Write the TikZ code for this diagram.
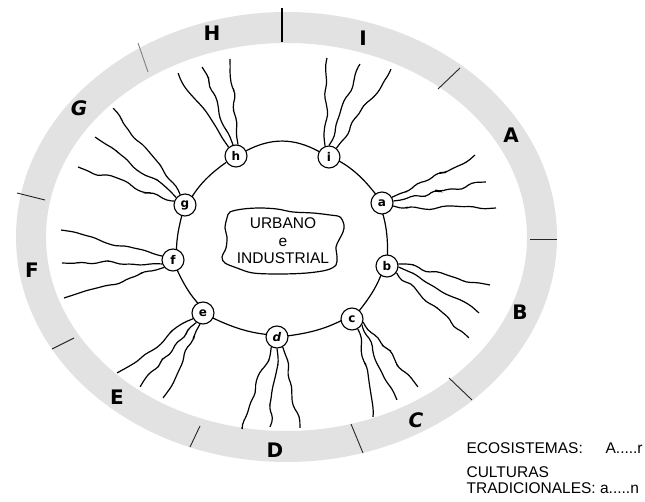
\documentclass[tikz,border=0pt]{standalone}
\usepackage{fontspec}
\setmainfont{Liberation Sans}
\newfontfamily\ringfont{DejaVu Sans}
\usetikzlibrary{decorations.pathmorphing,backgrounds}
\definecolor{ringgray}{RGB}{226,226,226}

\begin{document}
\begin{tikzpicture}[x=1pt,y=1pt,line width=1.2pt,
	cult/.style={circle,draw,line width=1.1pt,fill=white,inner sep=0pt,minimum size=22pt,font=\ringfont\bfseries\fontsize{12}{12}\selectfont},
	eco/.style={font=\ringfont\bfseries\fontsize{20}{20}\selectfont},
	wave/.style={decorate,decoration={random steps,segment length=10pt,amplitude=3pt},rounded corners=4.5pt},
	cut/.style={line width=0.9pt,black!85},
	legend/.style={anchor=base west,inner sep=0pt,font=\fontsize{15.5}{16}\selectfont}]
	
		\useasboundingbox (0,0) rectangle (645,-502);
		\pgfmathsetseed{11}
		
		% anillo de ecosistemas
		\fill[ringgray,even odd rule] (286.5,-237) ellipse[x radius=270.5,y radius=225]
			(286.5,-237) ellipse[x radius=240.5,y radius=194];
		\draw[line width=1.3pt] (282,-8) -- (282,-42);
		\draw[cut,gray] (138,-43) -- (148,-72);
		\draw[cut] (17,-193) -- (45,-200);
		\draw[cut] (438,-89) -- (460,-68);
		\draw[cut] (530,-239) -- (557,-239);
		\draw[cut] (52,-349) -- (74,-338);
		\draw[cut] (449,-378) -- (472,-400);
		\draw[cut] (200,-426) -- (190,-447);
		\draw[cut] (351,-424) -- (363,-453);
		
		\node[eco] (H) at (212,-33) {H};
		\node[eco] (I) at (363,-38) {I};
		\node[eco] (A) at (511,-135) {A};
		\node[eco] (B) at (520,-312) {B};
		\node[eco] (C) at (416,-420) {\itshape C};
		\node[eco] (D) at (275,-450) {D};
		\node[eco] (E) at (117,-397) {E};
		\node[eco] (F) at (32,-270) {F};
		\node[eco] (G) at (79,-108) {\itshape G};
		
		% culturas tradicionales
		\node[cult] (h) at (236,-156) {h};
		\node[cult] (i) at (329,-157) {i};
		\node[cult] (a) at (382,-203) {a};
		\node[cult] (b) at (387,-266) {b};
		\node[cult] (c) at (352,-319) {c};
		\node[cult] (d) at (277,-337) {\itshape d};
		\node[cult] (e) at (203,-313) {e};
		\node[cult] (f) at (173,-260) {f};
		\node[cult] (g) at (185,-205) {g};
		
		\begin{scope}[on background layer]
			\draw[line width=1.2pt] (h) to[bend left=28] (i) to[bend left=15] (a) to[bend left=12] (b)
				to[bend left=12] (c) to[bend left=12] (d) to[bend left=12] (e)
				to[bend left=12] (f) to[bend left=10] (g) to[bend left=15] (h);
		\end{scope}
		
		% centro urbano
		\node[align=center,inner sep=0pt,font=\fontsize{15.5}{17.5}\selectfont] (urb) at (283,-241) {URBANO\\e\\INDUSTRIAL};
		\draw plot[smooth cycle,tension=0.55] coordinates {(230,-212) (243,-209) (260,-208) (277,-209)
			(293,-212) (313,-213) (330,-215) (340,-217) (344,-225) (343,-232) (339,-240) (336,-247)
			(337,-257) (336,-265) (327,-270) (307,-273) (280,-274) (253,-273) (237,-268) (225,-263)
			(222,-257) (226,-248) (227,-237) (225,-228) (227,-218)};
		
		% raices
		\path (178,-73) coordinate (h1) (202,-67) coordinate (h2) (230,-59) coordinate (h3);
		\draw[wave] (h.130) -- (h1); \draw[wave] (h.105) -- (h2); \draw[wave] (h.80) -- (h3);
		\path (327,-58) coordinate (i1) (360,-64) coordinate (i2) (391,-69) coordinate (i3);
		\draw[wave] (i.110) -- (i1); \draw[wave] (i.90) -- (i2); \draw[wave] (i.50) -- (i3);
		\path (475,-155) coordinate (a1) (486,-182) coordinate (a2) (496,-208) coordinate (a3);
		\draw[wave] (a.30) -- (a1); \draw[wave] (a.10) -- (a2); \draw[wave] (a.-15) -- (a3);
		\path (490,-285) coordinate (b1) (479,-313) coordinate (b2) (469,-338) coordinate (b3);
		\draw[wave] (b.10) -- (b1); \draw[wave] (b.-5) -- (b2); \draw[wave] (b.-35) -- (b3);
		\path (373,-417) coordinate (c1) (397,-400) coordinate (c2) (418,-387) coordinate (c3);
		\draw[wave] (c.-60) -- (c1); \draw[wave] (c.-30) -- (c2); \draw[wave] (c.-15) -- (c3);
		\path (242,-427) coordinate (d1) (270,-427) coordinate (d2) (300,-428) coordinate (d3);
		\draw[wave] (d.-120) -- (d1); \draw[wave] (d.-90) -- (d2); \draw[wave] (d.-60) -- (d3);
		\path (117,-373) coordinate (e1) (140,-387) coordinate (e2) (163,-398) coordinate (e3);
		\draw[wave] (e.-150) -- (e1); \draw[wave] (e.-125) -- (e2); \draw[wave] (e.-105) -- (e3);
		\path (61,-230) coordinate (f1) (62,-263) coordinate (f2) (64,-298) coordinate (f3);
		\draw[wave] (f.160) -- (f1); \draw[wave] (f.200) -- (f2); \draw[wave] (f.220) -- (f3);
		\path (113,-108) coordinate (g1) (95,-137) coordinate (g2) (78,-167) coordinate (g3);
		\draw[wave] (g.115) -- (g1); \draw[wave] (g.140) -- (g2); \draw[wave] (g.160) -- (g3);
		
		% leyenda
		\node[legend] (ecos) at (466,-453) {ECOSISTEMAS:};
		\node[legend] (ecosval) at (605,-453) {A.....r};
		\node[legend] (cults) at (466,-477) {CULTURAS};
		\node[legend] (trad) at (466,-493) {TRADICIONALES: a.....n};
		
	\end{tikzpicture}
\end{document}
